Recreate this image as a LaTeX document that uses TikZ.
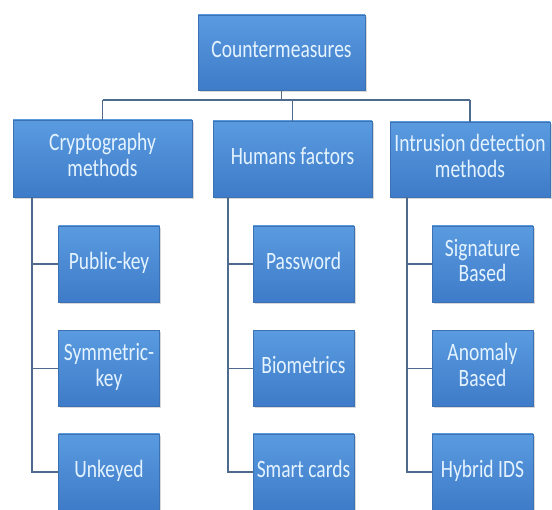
\documentclass[tikz,border=0pt]{standalone}
\usepackage{fontspec}
\setmainfont{Carlito}
\usetikzlibrary{shadows}
\definecolor{boxtop}{HTML}{5A9BE0}
\definecolor{boxbot}{HTML}{3E7BC8}
\definecolor{boxedge}{HTML}{3C72B4}
\definecolor{txtcol}{HTML}{E4F3FF}
\definecolor{linecol}{HTML}{4E6A8C}
\newcommand{\boxtxt}[1]{\scalebox{1}[1.28]{\begin{tabular}{@{}c@{}}#1\end{tabular}}}
\tikzset{
  cbox/.style={draw=boxedge, line width=0.6pt, top color=boxtop, bottom color=boxbot,
    text=txtcol, inner sep=0pt, align=center,
    font=\fontsize{19.5}{20}\selectfont,
    drop shadow={opacity=0.3, shadow xshift=1.5pt, shadow yshift=-2pt}},
  conn/.style={draw=linecol, line width=1.4pt}
}
\begin{document}
\begin{tikzpicture}[x=1pt,y=-1pt]
\useasboundingbox[fill=white] (0,0) rectangle (552,510);
% top
\node[cbox, minimum width=167pt, minimum height=75pt] (top) at (281.5,52.5) {\boxtxt{Countermeasures}};
% level 2
\node[cbox, minimum width=179pt, minimum height=77pt] (crypto) at (102.5,158.5) {\boxtxt{Cryptography\\methods}};
\node[cbox, minimum width=159pt, minimum height=76pt] (human) at (292.5,159) {\boxtxt{Humans factors}};
\node[cbox, minimum width=160pt, minimum height=75pt] (ids) at (470,159.5) {\boxtxt{Intrusion detection\\methods}};
% level 3
\tikzset{leaf/.style={cbox, minimum width=101pt, minimum height=76pt}}
\node[leaf] (pk) at (109,264) {\boxtxt{Public-key}};
\node[leaf] (sk) at (109,368.5) {\boxtxt{Symmetric-\\key}};
\node[leaf] (uk) at (109,472) {\boxtxt{Unkeyed}};
\node[leaf] (pw) at (303.5,264) {\boxtxt{Password}};
\node[leaf] (bio) at (303.5,368.5) {\boxtxt{Biometrics}};
\node[leaf] (sc) at (303.5,472) {\boxtxt{Smart cards}};
\node[leaf] (sig) at (482.5,264) {\boxtxt{Signature\\Based}};
\node[leaf] (ano) at (482.5,368.5) {\boxtxt{Anomaly\\Based}};
\node[leaf] (hyb) at (482.5,472) {\boxtxt{Hybrid IDS}};
% bus
\coordinate (bus) at (0,100);
\draw[conn] (top.south) -- (top.south |- bus);
\draw[conn] (crypto.north |- bus) -- (ids.north |- bus);
\draw[conn] (crypto.north |- bus) -- (crypto.north);
\draw[conn] (human.north |- bus) -- (human.north);
\draw[conn] (ids.north |- bus) -- (ids.north);
% crypto children
\coordinate (cv) at (32,0);
\draw[conn] (cv |- crypto.south) -- (cv |- uk.west) -- (uk.west);
\draw[conn] (cv |- pk.west) -- (pk.west);
\draw[conn] (cv |- sk.west) -- (sk.west);
% human children
\coordinate (hv) at (228,0);
\draw[conn] (hv |- human.south) -- (hv |- sc.west) -- (sc.west);
\draw[conn] (hv |- pw.west) -- (pw.west);
\draw[conn] (hv |- bio.west) -- (bio.west);
% ids children
\coordinate (iv) at (407,0);
\draw[conn] (iv |- ids.south) -- (iv |- hyb.west) -- (hyb.west);
\draw[conn] (iv |- sig.west) -- (sig.west);
\draw[conn] (iv |- ano.west) -- (ano.west);
\end{tikzpicture}
\end{document}
